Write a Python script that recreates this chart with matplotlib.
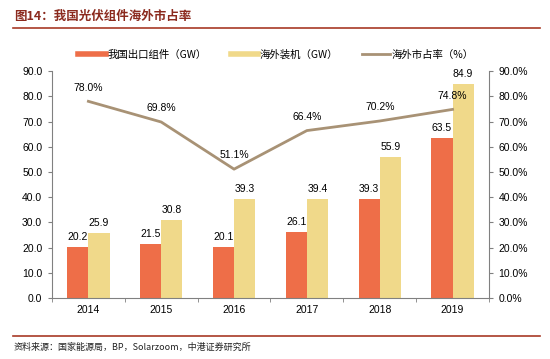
import matplotlib.pyplot as plt
import matplotlib
import numpy as np
from matplotlib.lines import Line2D

matplotlib.rcParams['font.family'] = ['Liberation Sans', 'Noto Sans CJK SC']

years = ['2014', '2015', '2016', '2017', '2018', '2019']
export_gw = [20.2, 21.5, 20.1, 26.1, 39.3, 63.5]
overseas_gw = [25.9, 30.8, 39.3, 39.4, 55.9, 84.9]
share_pct = [78.0, 69.8, 51.1, 66.4, 70.2, 74.8]

c_orange = '#EE6E48'
c_yellow = '#F0D98A'
c_line = '#A89275'
c_title = '#8B2A1E'

fig = plt.figure(figsize=(5.5, 3.59), dpi=100)
ax = fig.add_axes([0.0945, 0.170, 0.7945, 0.632])
ax2 = ax.twinx()

x = np.arange(len(years))
w = 0.29
ax.bar(x - w / 2, export_gw, w, color=c_orange, zorder=2)
ax.bar(x + w / 2, overseas_gw, w, color=c_yellow, zorder=2)
for xi, v in zip(x, export_gw):
    ax.text(xi - w / 2, v + 2.0, f'{v:.1f}', ha='center', va='bottom', fontsize=7.5)
for xi, v in zip(x, overseas_gw):
    ax.text(xi + w / 2, v + 2.0, f'{v:.1f}', ha='center', va='bottom', fontsize=7.5)

ax2.plot(x, [s / 100 for s in share_pct], color=c_line, lw=2, zorder=3)
for xi, s in zip(x, share_pct):
    ax2.text(xi, s / 100 + 0.035, f'{s:.1f}%', ha='center', va='bottom', fontsize=7.5)

ax.set_xlim(-0.5, len(years) - 0.5)
ax.set_ylim(0, 90)
ax.set_yticks(np.arange(0, 91, 10))
ax.set_yticklabels([f'{v:.1f}' for v in np.arange(0, 91, 10)], fontsize=7.5)
ax2.set_ylim(0, 0.9)
ax2.set_yticks(np.arange(0, 0.91, 0.1))
ax2.set_yticklabels([f'{v * 100:.1f}%' for v in np.arange(0, 0.91, 0.1)], fontsize=7.5)

ax.set_xticks(x)
ax.set_xticklabels(years, fontsize=7.5)
ax.tick_params(axis='x', length=0, pad=5)
ax.set_xticks(np.arange(-0.5, len(years), 1), minor=True)
ax.tick_params(axis='x', which='minor', length=3, color='#808080')
ax.tick_params(axis='y', length=3, color='#808080', pad=4)
ax2.tick_params(axis='y', length=3, color='#808080', pad=4)

for a in (ax, ax2):
    a.spines['top'].set_visible(False)
    for s in ('left', 'right', 'bottom'):
        a.spines[s].set_color('#808080')
        a.spines[s].set_linewidth(0.8)
ax.spines['right'].set_visible(False)
ax2.spines['left'].set_visible(False)
ax2.spines['bottom'].set_visible(False)

# Legend
handles = [Line2D([0], [0], color=c_orange, lw=4),
           Line2D([0], [0], color=c_yellow, lw=4),
           Line2D([0], [0], color=c_line, lw=2)]
labels = ['我国出口组件（GW）', '海外装机（GW）', '海外市占率（%）']
fig.legend(handles, labels, loc='center', bbox_to_anchor=(0.502, 0.847), ncol=3,
           frameon=False, handlelength=2.6, columnspacing=2.3,
           handletextpad=0.2, prop={'family': ['Noto Sans CJK SC'], 'size': 7.5})

# Title and frame lines
fig.text(0.025, 0.955, '图14：我国光伏组件海外市占率', ha='left', va='center',
         fontsize=9.0, fontweight='bold', color=c_title,
         family=['Noto Sans CJK SC'])
fig.add_artist(Line2D([0.023, 0.982], [0.922, 0.922], color='#A83A26', lw=1.2))
fig.add_artist(Line2D([0.023, 0.982], [0.064, 0.064], color='#A83A26', lw=1.2))
fig.text(0.025, 0.033, '资料来源：国家能源局，BP，Solarzoom，中港证券研究所', ha='left',
         va='center', fontsize=6.5, style='italic', color='#222222',
         family=['Noto Sans CJK SC'])

plt.savefig('out.png', dpi=100)
